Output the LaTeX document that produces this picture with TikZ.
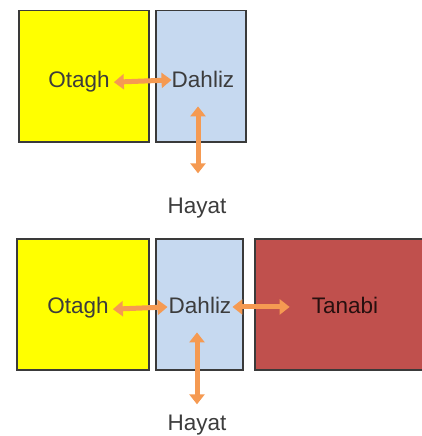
\documentclass[tikz,border=0pt]{standalone}
\usepackage{fontspec}
\setmainfont{Liberation Sans}
\usetikzlibrary{arrows.meta}
\definecolor{ylw}{HTML}{FFFF00}
\definecolor{blu}{HTML}{C6D9F0}
\definecolor{rd}{HTML}{C0504D}
\definecolor{org}{HTML}{F59A52}
\definecolor{txt}{HTML}{3C3C3C}
\definecolor{edge}{HTML}{3A3A3A}
\begin{document}
\begin{tikzpicture}[x=1pt,y=1pt,
  box/.style={draw=edge,line width=1.5pt,inner sep=0pt,anchor=north west},
  lbl/.style={font=\fontsize{22.5}{24}\selectfont,text=txt,inner sep=2pt,anchor=base},
  conn/.style={org,line width=5pt,{Triangle[width=15pt,length=10pt]}-{Triangle[width=15pt,length=10pt]}}]
\useasboundingbox (0,0) rectangle (421,-436);
% top diagram
\node[box,fill=ylw,minimum width=130pt,minimum height=131pt] (y1) at (18,-10) {};
\node[box,fill=blu,minimum width=90pt,minimum height=131pt] (b1) at (155,-10) {};
\node[lbl] (o1) at (79,-87) {Otagh};
\node[lbl] (d1) at (203,-87) {Dahliz};
\node[lbl] (h1) at (197,-213) {Hayat};
\draw[conn] ([xshift=2pt,yshift=-1pt]o1.east) -- ([xshift=2pt,yshift=-1pt]d1.west);
\draw[conn] ([xshift=-5pt,yshift=-17pt]d1.south) -- ([xshift=1pt,yshift=22pt]h1.north);
% bottom diagram
\node[box,fill=ylw,minimum width=132pt,minimum height=131pt] (y2) at (16,-238) {};
\node[box,fill=blu,minimum width=87pt,minimum height=131pt] (b2) at (155,-238) {};
\node[box,fill=rd,minimum width=170pt,minimum height=131pt] (r2) at (254,-238) {};
\node[lbl] (o2) at (78,-313) {Otagh};
\node[lbl] (d2) at (200,-313) {Dahliz};
\node[lbl,text=black!80!rd] (t2) at (345,-313) {Tanabi};
\node[lbl] (h2) at (197,-430) {Hayat};
\draw[conn] ([xshift=2pt,yshift=-2pt]o2.east) -- ([xshift=1pt,yshift=-2pt]d2.west);
\draw[conn] ([xshift=-1pt,yshift=-2pt]d2.east) -- ([xshift=-20pt,yshift=-2pt]t2.west);
\draw[conn] ([xshift=-3pt,yshift=-17pt]d2.south) -- ([xshift=0pt,yshift=8pt]h2.north);
\end{tikzpicture}
\end{document}
